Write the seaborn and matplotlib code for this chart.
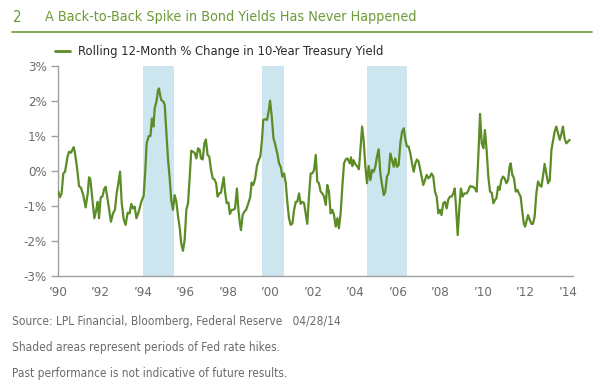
import matplotlib
matplotlib.use("Agg")
import matplotlib.pyplot as plt
import seaborn as sns
import pandas as pd
from matplotlib.lines import Line2D

# rolling 12-month % change in 10-yr treasury yield
years_90s = [1990.02, 1990.09, 1990.17, 1990.25, 1990.33, 1990.45, 1990.52, 1990.61, 1990.67, 1990.74,
             1990.80, 1990.89, 1990.99, 1991.08, 1991.19, 1991.30, 1991.40, 1991.46, 1991.52, 1991.62,
             1991.71, 1991.80, 1991.87, 1991.93, 1992.01, 1992.09, 1992.18, 1992.24, 1992.34, 1992.42,
             1992.49, 1992.59, 1992.68, 1992.76, 1992.84, 1992.92, 1993.00, 1993.09, 1993.18, 1993.28,
             1993.37, 1993.45, 1993.53, 1993.61, 1993.69, 1993.80, 1993.92, 1994.03, 1994.11, 1994.17,
             1994.27, 1994.35, 1994.42, 1994.49, 1994.55, 1994.63, 1994.71, 1994.75, 1994.82, 1994.86,
             1994.96, 1995.02, 1995.10, 1995.18, 1995.25, 1995.33, 1995.41, 1995.49, 1995.57, 1995.65,
             1995.73, 1995.80, 1995.88, 1995.96, 1996.04, 1996.12, 1996.20, 1996.27, 1996.35, 1996.43,
             1996.51, 1996.59, 1996.67, 1996.73, 1996.81, 1996.89, 1996.96, 1997.04, 1997.12, 1997.20,
             1997.28, 1997.36, 1997.44, 1997.51, 1997.59, 1997.67, 1997.75, 1997.80, 1997.86, 1997.94,
             1998.02, 1998.09, 1998.17, 1998.25, 1998.33, 1998.42, 1998.49, 1998.56, 1998.61, 1998.69,
             1998.77, 1998.85, 1998.96, 1999.05, 1999.11, 1999.19, 1999.27, 1999.36, 1999.44, 1999.52,
             1999.60, 1999.66, 1999.76, 1999.84, 1999.92, 1999.98]
vals_90s = [-0.59, -0.75, -0.64, -0.07, -0.02, 0.41, 0.55, 0.52, 0.60, 0.68,
            0.50, 0.12, -0.43, -0.48, -0.69, -1.04, -0.64, -0.18, -0.23, -0.83,
            -1.35, -1.11, -0.88, -1.35, -0.75, -0.73, -0.50, -0.45, -0.83, -1.16,
            -1.45, -1.21, -1.11, -0.64, -0.35, -0.02, -0.92, -1.38, -1.54, -1.19,
            -1.21, -0.94, -1.07, -1.02, -1.35, -1.16, -0.88, -0.71, 0.03, 0.79,
            1.00, 1.00, 1.50, 1.27, 1.79, 1.98, 2.31, 2.36, 2.12, 2.03,
            1.98, 1.89, 1.12, 0.31, -0.16, -0.83, -1.11, -0.69, -0.88, -1.30,
            -1.64, -2.07, -2.28, -1.97, -1.11, -0.92, -0.16, 0.58, 0.55, 0.52,
            0.36, 0.65, 0.60, 0.36, 0.33, 0.79, 0.90, 0.46, 0.41, 0.03,
            -0.21, -0.24, -0.35, -0.73, -0.64, -0.62, -0.35, -0.18, -0.59, -0.92,
            -0.90, -1.23, -1.11, -1.11, -1.07, -0.50, -1.11, -1.50, -1.69, -1.26,
            -1.16, -1.11, -0.92, -0.73, -0.33, -0.40, -0.24, 0.14, 0.31, 0.41,
            0.89, 1.46, 1.48, 1.46, 1.74, 2.01]

years_00s = [2000.06, 2000.14, 2000.21, 2000.32, 2000.40, 2000.48, 2000.56, 2000.64, 2000.72, 2000.79,
             2000.87, 2000.95, 2001.03, 2001.11, 2001.19, 2001.26, 2001.34, 2001.42, 2001.50, 2001.58,
             2001.66, 2001.73, 2001.81, 2001.89, 2001.97, 2002.05, 2002.13, 2002.20, 2002.28, 2002.36,
             2002.44, 2002.52, 2002.60, 2002.67, 2002.75, 2002.83, 2002.91, 2002.99, 2003.07, 2003.15,
             2003.22, 2003.30, 2003.38, 2003.46, 2003.54, 2003.62, 2003.73, 2003.79, 2003.85, 2003.91,
             2003.99, 2004.07, 2004.16, 2004.23, 2004.31, 2004.38, 2004.46, 2004.54, 2004.62, 2004.70,
             2004.78, 2004.86, 2004.93, 2005.01, 2005.09, 2005.17, 2005.25, 2005.33, 2005.40, 2005.48,
             2005.56, 2005.64, 2005.72, 2005.80, 2005.87, 2005.95, 2006.03, 2006.11, 2006.19, 2006.27,
             2006.35, 2006.42, 2006.50, 2006.58, 2006.66, 2006.74, 2006.82, 2006.89, 2006.97, 2007.05,
             2007.19, 2007.27, 2007.35, 2007.43, 2007.51, 2007.58, 2007.66, 2007.74, 2007.82, 2007.90,
             2007.98, 2008.05, 2008.13, 2008.21, 2008.29, 2008.37, 2008.45, 2008.53, 2008.60, 2008.67,
             2008.73, 2008.81, 2008.89, 2008.96, 2009.04, 2009.12, 2009.23, 2009.31, 2009.39, 2009.46,
             2009.54, 2009.62, 2009.70, 2009.78, 2009.86, 2009.94]
vals_00s = [1.55, 0.93, 0.79, 0.50, 0.22, 0.12, -0.16, -0.07, -0.35, -0.88,
            -1.35, -1.54, -1.50, -1.11, -0.88, -0.88, -0.64, -0.94, -0.88, -0.92,
            -1.23, -1.51, -0.73, -0.07, -0.07, 0.03, 0.46, -0.30, -0.35, -0.59,
            -0.64, -0.73, -0.97, -0.40, -0.59, -1.21, -1.11, -1.26, -1.59, -1.35,
            -1.64, -1.21, -0.45, 0.22, 0.33, 0.36, 0.22, 0.39, 0.14, 0.31,
            0.20, 0.14, 0.05, 0.60, 1.27, 0.89, 0.17, -0.35, 0.14, -0.26,
            0.03, -0.02, 0.12, 0.41, 0.62, -0.07, -0.40, -0.69, -0.59, -0.16,
            -0.07, 0.50, 0.31, 0.12, 0.36, 0.12, 0.17, 0.79, 1.12, 1.22,
            0.89, 0.70, 0.70, 0.50, 0.22, -0.02, 0.22, 0.33, 0.27, 0.03,
            -0.40, -0.26, -0.11, -0.21, -0.16, -0.07, -0.16, -0.59, -0.73, -1.21,
            -1.11, -1.26, -0.92, -0.88, -1.07, -0.81, -0.73, -0.73, -0.64, -0.50,
            -1.02, -1.83, -1.02, -0.50, -0.73, -0.64, -0.64, -0.56, -0.43, -0.45,
            -0.45, -0.50, -0.59, 0.41, 1.63, 0.79]

years_10s = [2010.02, 2010.09, 2010.17, 2010.25, 2010.33, 2010.41, 2010.49, 2010.56, 2010.63, 2010.71,
             2010.78, 2010.86, 2010.94, 2011.02, 2011.10, 2011.18, 2011.25, 2011.30, 2011.38, 2011.46,
             2011.54, 2011.62, 2011.69, 2011.77, 2011.85, 2011.92, 2011.98, 2012.04, 2012.12, 2012.20,
             2012.28, 2012.35, 2012.43, 2012.51, 2012.59, 2012.67, 2012.75, 2012.82, 2012.90, 2012.98,
             2013.06, 2013.14, 2013.22, 2013.29, 2013.37, 2013.45, 2013.53, 2013.61, 2013.69, 2013.76,
             2013.84, 2013.92, 2014.00, 2014.08]
vals_10s = [0.65, 1.17, 0.60, -0.16, -0.59, -0.62, -0.92, -0.83, -0.78, -0.45,
            -0.54, -0.26, -0.16, -0.21, -0.35, -0.26, 0.12, 0.22, -0.11, -0.21,
            -0.59, -0.54, -0.64, -0.73, -1.16, -1.50, -1.59, -1.45, -1.26, -1.40,
            -1.51, -1.51, -1.30, -0.64, -0.30, -0.40, -0.45, -0.16, 0.20, -0.07,
            -0.35, -0.26, 0.60, 0.84, 1.12, 1.27, 1.08, 0.89, 1.06, 1.27,
            0.93, 0.79, 0.84, 0.89]

# fed rate hike periods (shaded)
hike_start = [1994.0, 1999.6, 2004.55]
hike_end = [1995.45, 2000.65, 2006.42]

tick_years = list(range(1990, 2015, 2))
tick_labels = ["\u2019" + str(y)[2:] for y in tick_years]

df = pd.DataFrame({"year": years_90s + years_00s + years_10s,
                   "change": vals_90s + vals_00s + vals_10s})

green = "#5b8c25"
title_green = "#6c9b37"
gray = "#6b6b6b"

sns.set_style("white")
plt.rcParams["font.family"] = ["DejaVu Sans"]
plt.rcParams["font.stretch"] = "condensed"

fig = plt.figure(figsize=(6, 3.92), dpi=100)
ax = fig.add_axes([58 / 600, 1 - 276 / 392, 515 / 600, 210 / 392])

for s, e in zip(hike_start, hike_end):
    ax.axvspan(s, e, color="#cde5ee", lw=0, zorder=0)

sns.lineplot(data=df, x="year", y="change", color=green, lw=1.6, ax=ax, zorder=3)

ax.set_xlim(1990, 1990 + 515 / 21.25)
ax.set_ylim(-3, 3)
ax.set_yticks(range(-3, 4))
ax.set_yticklabels([f"{v}%" for v in range(-3, 4)])
ax.set_xticks(tick_years)
ax.set_xticklabels(tick_labels)
ax.set_xlabel("")
ax.set_ylabel("")
for side in ["top", "right"]:
    ax.spines[side].set_visible(False)
for side in ["left", "bottom"]:
    ax.spines[side].set_color("#a0a0a0")
    ax.spines[side].set_linewidth(1.0)
ax.tick_params(axis="y", length=5, width=1, color="#a0a0a0", labelsize=9.5,
               labelcolor=gray, pad=3, left=True)
ax.tick_params(axis="x", length=0, labelsize=9.5, labelcolor=gray, pad=7)

# header
fig.text(13 / 600, 1 - 17 / 392, "2", color=title_green, fontsize=10.8, va="center")
fig.text(45 / 600, 1 - 17 / 392, "A Back-to-Back Spike in Bond Yields Has Never Happened",
         color=title_green, fontsize=10.3, va="center")
fig.add_artist(Line2D([12 / 600, 592 / 600], [1 - 32 / 392, 1 - 32 / 392],
                      color=title_green, lw=1.2))

# legend
fig.add_artist(Line2D([55 / 600, 70 / 600], [1 - 51 / 392, 1 - 51 / 392], color=green, lw=2))
fig.text(78 / 600, 1 - 51 / 392, "Rolling 12-Month % Change in 10-Year Treasury Yield",
         color="#2a2a2a", fontsize=9.3, va="center")

# footnotes
notes = ["Source: LPL Financial, Bloomberg, Federal Reserve   04/28/14",
         "Shaded areas represent periods of Fed rate hikes.",
         "Past performance is not indicative of future results."]
for y, t in zip([322, 348, 374], notes):
    fig.text(12 / 600, 1 - y / 392, t, color=gray, fontsize=8.6, va="center")

fig.savefig("out.png", dpi=100)
